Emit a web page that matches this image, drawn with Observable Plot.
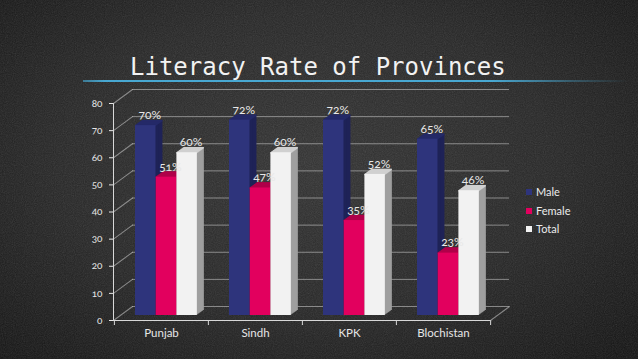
<!DOCTYPE html>
<html>
<head>
<meta charset="utf-8">
<script src="https://cdn.jsdelivr.net/npm/d3@7"></script>
<script src="https://cdn.jsdelivr.net/npm/@observablehq/plot@0.6"></script>
<style>
  html, body { margin: 0; padding: 0; }
  body {
    width: 638px; height: 359px; overflow: hidden;
    background: radial-gradient(ellipse 70% 75% at 48% 45%, #333333 0%, #272727 55%, #141414 100%);
    font-family: Lato, "Open Sans", sans-serif;
  }
  #wrap { position: relative; width: 638px; height: 359px; }
  #noise {
    position: absolute; left: 0; top: 0; width: 638px; height: 359px; opacity: 0.16;
    background-image: url("data:image/svg+xml;utf8,<svg xmlns='http://www.w3.org/2000/svg' width='638' height='359'><filter id='n'><feTurbulence type='fractalNoise' baseFrequency='0.9' numOctaves='2' seed='3'/><feColorMatrix type='saturate' values='0'/></filter><rect width='100%25' height='100%25' filter='url(%23n)'/></svg>");
  }
  #title {
    position: absolute; left: 130px; top: 55px;
    font-family: "DejaVu Sans Mono", monospace; font-size: 24px; line-height: 24px;
    color: #f2f2f2; white-space: nowrap;
  }
  #blue {
    position: absolute; left: 83px; top: 80px; width: 545px; height: 2px;
    background: linear-gradient(to right, rgba(70,170,212,0.6) 0%, #48a8d2 4%, #48a8d2 75%, rgba(72,168,210,0.35) 90%, rgba(72,168,210,0) 100%);
  }
  #chart { position: absolute; left: 0; top: 0; }
  .leg { position: absolute; font-size: 11px; color: #ececec; line-height: 18.5px; white-space: nowrap; }
  .sw { position: absolute; width: 6px; height: 6px; }
</style>
</head>
<body>
<div id="wrap">
  <div id="noise"></div>
  <div id="title">Literacy Rate of Provinces</div>
  <div id="blue"></div>
  <div id="chart"></div>
</div>
<script>
const provinces = ["Punjab", "Sindh", "KPK", "Blochistan"];
const seriesNames = ["Male", "Female", "Total"];
const maleRates = [70, 72, 72, 65];
const femaleRates = [51, 47, 35, 23];
const totalRates = [60, 60, 52, 46];
const yTicks = [0, 10, 20, 30, 40, 50, 60, 70, 80];

const frontColors = ["#2e347c", "#e2005e", "#f2f2f2"];
const topColors = ["#252a68", "#b0004a", "#d0d0d0"];
const sideColors = ["#1f2358", "#96003b", "#a0a0a0"];

const seriesValues = [maleRates, femaleRates, totalRates];
const rows = seriesNames.map((s, j) =>
  provinces.map((p, i) => ({province: p, series: s, value: seriesValues[j][i]})));

const W = 638, H = 359, mL = 113, mR = 148, mT = 103, mB = 39;
const band = (W - mL - mR) / provinces.length;
const barW = 20.7, lead = 14;
const placeX = 7, placeY = -5;     // bars sit mid-depth
const depthX = 7, depthY = -5;     // bar depth
const wallX = 19, wallY = -14;     // back wall offset
const steps = 8;
const gridColor = "#c4c4c4";

const marks = [];
// back wall grid
marks.push(Plot.ruleY(yTicks, {y: d => d, dx: wallX, dy: wallY, stroke: gridColor, strokeOpacity: 0.6, strokeWidth: 1}));
// diagonals from the axis to the back wall
const diagLen = Math.hypot(wallX, wallY);
const diagRot = Math.atan2(wallX, -wallY) * 180 / Math.PI;
marks.push(Plot.vector(yTicks, {y: d => d, frameAnchor: "left", length: diagLen, rotate: diagRot, anchor: "start", r: 0, stroke: gridColor, strokeOpacity: 0.6, strokeWidth: 1}));
marks.push(Plot.vector([0], {y: d => d, frameAnchor: "right", length: diagLen, rotate: diagRot, anchor: "start", r: 0, stroke: gridColor, strokeOpacity: 0.6, strokeWidth: 1}));
// axis lines
marks.push(Plot.ruleY([0], {stroke: "#d8d8d8", strokeWidth: 1}));
marks.push(Plot.vector([0], {y: d => d, frameAnchor: "left", length: H - mT - mB, rotate: 0, anchor: "start", r: 0, stroke: "#d8d8d8", strokeWidth: 1}));
// x boundary ticks
marks.push(Plot.vector(provinces, {x: d => d, y: () => 0, dx: -band / 2, length: 4, rotate: 180, anchor: "start", r: 0, stroke: "#d8d8d8", strokeWidth: 1}));
marks.push(Plot.vector(provinces.slice(-1), {x: d => d, y: () => 0, dx: band / 2, length: 4, rotate: 180, anchor: "start", r: 0, stroke: "#d8d8d8", strokeWidth: 1}));

// bars
seriesNames.forEach((s, j) => {
  const insetLeft = lead + j * barW;
  const insetRight = band - insetLeft - barW;
  for (let k = steps; k >= 1; k--) {
    marks.push(Plot.barY(rows[j], {x: "province", y: "value", insetLeft, insetRight,
      dx: placeX + k * depthX / steps, dy: placeY + k * depthY / steps, fill: sideColors[j]}));
  }
  for (let k = steps; k >= 0; k--) {
    marks.push(Plot.tickY(rows[j], {x: "province", y: "value", insetLeft, insetRight,
      dx: placeX + k * depthX / steps, dy: placeY + k * depthY / steps, stroke: topColors[j], strokeWidth: 1.6}));
  }
  marks.push(Plot.barY(rows[j], {x: "province", y: "value", insetLeft, insetRight,
    dx: placeX, dy: placeY, fill: frontColors[j]}));
});
// value labels
seriesNames.forEach((s, j) => {
  const insetLeft = lead + j * barW;
  marks.push(Plot.text(rows[j], {x: "province", y: "value", text: d => d.value + "%",
    dx: -band / 2 + insetLeft + barW / 2 + placeX + 4, dy: -15.5,
    fill: "#e8e8e8", fontSize: 12, fontVariant: "oldstyle-nums"}));
});
marks.push(Plot.axisY({ticks: yTicks, tickSize: 4, tickPadding: 7, fontSize: 10, label: null, fontVariant: "oldstyle-nums"}));
marks.push(Plot.axisX({tickSize: 0, tickPadding: 8, fontSize: 11.5, label: null}));

const chart = Plot.plot({
  width: W, height: H,
  marginLeft: mL, marginRight: mR, marginTop: mT, marginBottom: mB,
  x: {domain: provinces, padding: 0},
  y: {domain: [0, 80]},
  style: {background: "transparent", color: "#e6e6e6", fontFamily: "Lato, 'Open Sans', sans-serif", overflow: "visible"},
  marks
});
document.getElementById("chart").appendChild(chart);

// legend
const wrap = document.getElementById("wrap");
seriesNames.forEach((s, j) => {
  const top = 183.2 + j * 18.5;
  const sw = document.createElement("div");
  sw.className = "sw";
  sw.style.left = "526px"; sw.style.top = (top + 6) + "px"; sw.style.background = frontColors[j];
  wrap.appendChild(sw);
  const t = document.createElement("div");
  t.className = "leg";
  t.style.left = "536px"; t.style.top = top + "px";
  t.textContent = s;
  wrap.appendChild(t);
});
</script>
</body>
</html>
